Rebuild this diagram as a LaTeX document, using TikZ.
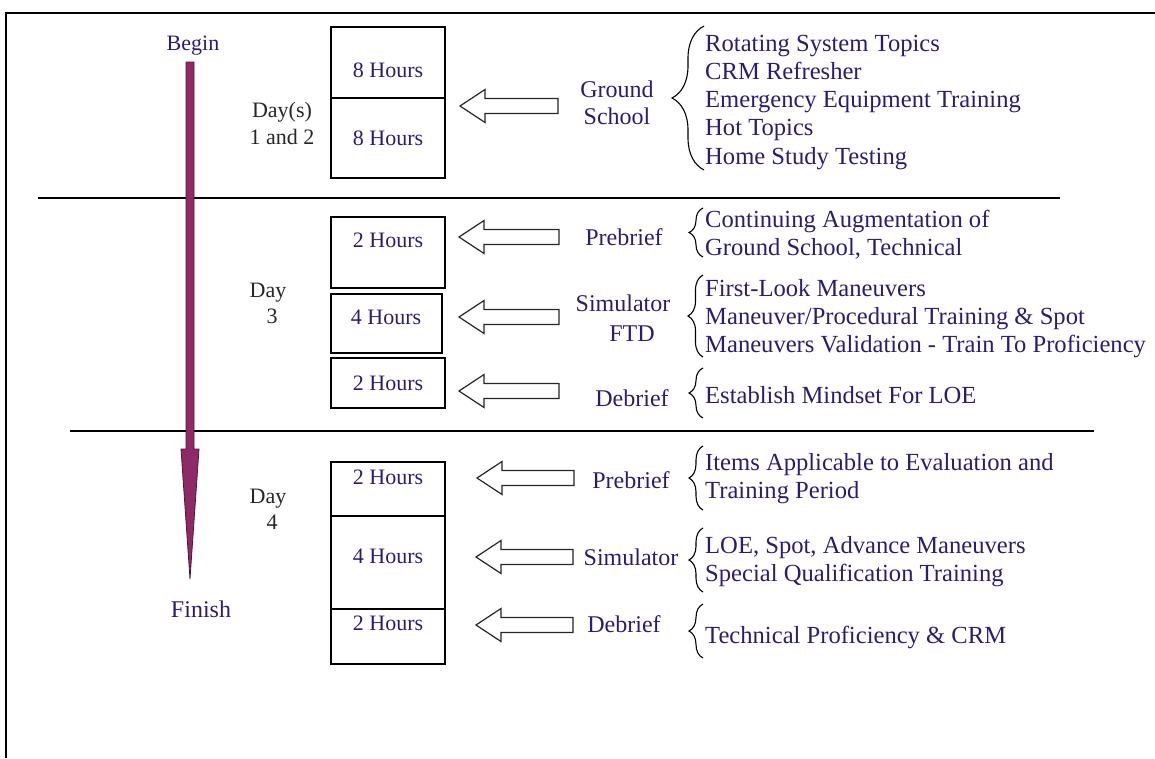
\documentclass[tikz,border=0pt]{standalone}
\usepackage{fontspec}
\setmainfont{Liberation Serif}
\usetikzlibrary{decorations.pathreplacing}
\definecolor{txt}{RGB}{45,28,110}
\definecolor{timeline}{RGB}{142,42,102}
\definecolor{timelinedark}{RGB}{80,20,55}
\newcommand\blkarrow[3]{%
  \draw[blk] (#1,#2) -- ++(25,-16.5) -- ++(0,9) -- (#3,#2-7.5) -- (#3,#2+7.5) -- (#1+25,#2+7.5) -- ++(0,9) -- cycle;}
\begin{document}
\begin{tikzpicture}[x=1pt,y=-1pt,
  lbl/.style={text=txt,font=\fontsize{24}{28}\selectfont,inner sep=0,anchor=base},
  item/.style={text=txt,font=\fontsize{24.6}{28.2}\selectfont,inner sep=0,align=left,anchor=base west},
  hrs/.style={text=txt,font=\fontsize{22}{26}\selectfont,inner sep=0,anchor=base},
  daylbl/.style={text=black!85,font=\fontsize{22}{26}\selectfont,inner sep=0,anchor=base},
  slot/.style={draw=black,line width=1.8pt,inner sep=0,outer sep=0,anchor=north west},
  rule/.style={line width=1.8pt},
  blk/.style={draw=black!85,line width=1.2pt,fill=white,line join=miter},
  mybrace/.style={decorate,decoration={brace,amplitude=#1},line width=1.1pt}]
\useasboundingbox (0,0) rectangle (1155,758);
% frame
\draw[line width=2.6pt] (6,758) -- (6,13) -- (1156,13);
% day separators
\draw[rule] (38,198) -- (1060,198);
\draw[rule] (70,431) -- (1094,431);
% timeline arrow
\draw[fill=timeline,draw=timelinedark,line width=0.8pt,line join=miter]
  (186,62) -- (186,449) -- (181,449) -- (190,579) -- (199,449) -- (194,449) -- (194,62) -- cycle;
\node[hrs,text=txt] (begin) at (193,50.5) {Begin};
\node[lbl] (finish) at (201,617) {Finish};
% day labels
\node[daylbl] (d1a) at (282,117.5) {Day(s)};
\node[daylbl] (d1b) at (282,144.5) {1 and 2};
\node[daylbl] (d3a) at (268,297.5) {Day};
\node[daylbl] (d3b) at (272,323.5) {3};
\node[daylbl] (d4a) at (268,503.5) {Day};
\node[daylbl] (d4b) at (272,529.5) {4};
% boxes
\node[slot,minimum width=114,minimum height=151] (b12) at (331,27) {};
\draw[rule] (331,98) -- (445,98);
\node[slot,minimum width=114,minimum height=71] (b3a) at (331,217) {};
\node[slot,minimum width=111,minimum height=59] (b3b) at (331,294) {};
\node[slot,minimum width=114,minimum height=50] (b3c) at (331,358) {};
\node[slot,minimum width=114,minimum height=202] (b4) at (331,462) {};
\draw[rule] (331,516) -- (445,516);
\draw[rule] (331,609) -- (445,609);
% hours
\node[hrs] (h1) at (388,77.5) {8 Hours};
\node[hrs] (h2) at (388,145.5) {8 Hours};
\node[hrs] (h3) at (388,247.5) {2 Hours};
\node[hrs] (h4) at (386,324.5) {4 Hours};
\node[hrs] (h5) at (388,390.5) {2 Hours};
\node[hrs] (h6) at (388,484.5) {2 Hours};
\node[hrs] (h7) at (388,563.5) {4 Hours};
\node[hrs] (h8) at (388,630.5) {2 Hours};
% block arrows
\blkarrow{460}{106}{558}
\blkarrow{459}{237}{559}
\blkarrow{459}{317}{559}
\blkarrow{459}{391}{559}
\blkarrow{477}{478}{574}
\blkarrow{476}{557}{573}
\blkarrow{476}{625}{573}
% activity labels
\node[lbl] (gs1) at (617,97) {Ground};
\node[lbl] (gs2) at (617,124) {School};
\node[lbl] (pb3) at (624,245) {Prebrief};
\node[lbl] (sim3) at (623,311) {Simulator};
\node[lbl] (ftd3) at (632,341) {FTD};
\node[lbl] (db3) at (632,406) {Debrief};
\node[lbl] (pb4) at (631,488) {Prebrief};
\node[lbl] (sim4) at (631,565) {Simulator};
\node[lbl] (db4) at (624,632) {Debrief};
% braces
\draw[mybrace=32pt] (704,170) -- (704,26);
\draw[mybrace=14pt] (703,257) -- (703,208);
\draw[mybrace=15pt] (703,357) -- (703,275);
\draw[mybrace=14pt] (703,418) -- (703,368);
\draw[mybrace=14pt] (703,510) -- (703,446);
\draw[mybrace=14pt] (703,592) -- (703,528);
\draw[mybrace=14pt] (703,658) -- (703,604);
% lists (base anchor = baseline of last line)
\node[item] (l1) at (705,164) {Rotating System Topics\\CRM Refresher\\Emergency Equipment Training\\Hot Topics\\Home Study Testing};
\node[item,font=\fontsize{24.6}{27.5}\selectfont] (l2) at (705,255) {Continuing Augmentation of\\Ground School, Technical};
\node[item,font=\fontsize{24.6}{28}\selectfont] (l3) at (705,352) {First-Look Maneuvers\\Maneuver/Procedural Training \& Spot\\Maneuvers Validation - Train To Proficiency};
\node[item] (l4) at (705,403) {Establish Mindset For LOE};
\node[item,font=\fontsize{24.6}{28}\selectfont] (l5) at (705,498) {Items Applicable to Evaluation and\\Training Period};
\node[item,font=\fontsize{24.6}{27.5}\selectfont] (l6) at (705,581) {LOE, Spot, Advance Maneuvers\\Special Qualification Training};
\node[item] (l7) at (705,643) {Technical Proficiency \& CRM};
\end{tikzpicture}
\end{document}
